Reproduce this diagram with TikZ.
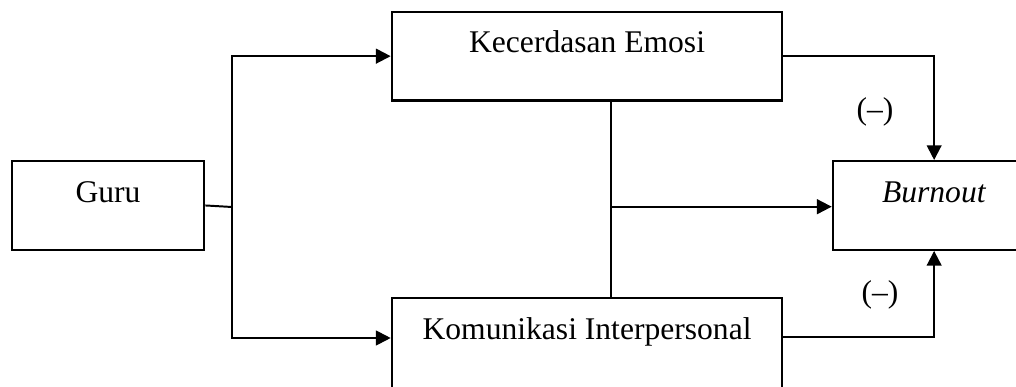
\documentclass[tikz,border=0pt]{standalone}
\usepackage{fontspec}
\setmainfont{Liberation Serif}
\usetikzlibrary{arrows.meta}

\begin{document}
\begin{tikzpicture}[x=0.38pt,y=-0.38pt,line cap=butt,line join=miter,>={Triangle[length=5.6pt,width=5.6pt]}]
			\tikzset{box/.style={draw,line width=0.85pt,inner sep=0pt,anchor=north west,
					text height=15.6pt,text depth=18.1pt,font=\fontsize{12}{14}\selectfont},
				link/.style={line width=0.75pt},
				sign/.style={font=\fontsize{12}{14}\selectfont}
			}
			\useasboundingbox (0,0) rectangle (1016,387);
			\clip (0,0) rectangle (1016,387);
			% boxes
			\node[box,minimum width=73.1pt] (guru) at (10.7,160) {Guru};
			\node[box,minimum width=148.4pt] (emosi) at (390.7,10.7) {Kecerdasan Emosi};
			\node[box,minimum width=148.4pt,text depth=20.5pt] (komunikasi) at (390.7,297) {Komunikasi Interpersonal};
			\node[box,minimum width=77pt] (burnout) at (831.7,160) {\textit{Burnout}};
			\coordinate (split) at (232,207);
			\coordinate (mid) at (610.7,206.7);
			% connectors
			\draw[link] (guru.east) -- (split);
			\draw[link,->] (split) |- (emosi.west);
			\draw[link,->] (split) |- (komunikasi.west |- 0,338);
			\draw[link] (mid |- emosi.south) -- (mid |- komunikasi.north);
			\draw[link,->] (mid) -- (mid -| burnout.west);
			\draw[link,->] (emosi.east) -| (burnout.north);
			\draw[link,->] (komunikasi.east |- 0,337) -| (burnout.south);
			\node[sign] (negA) at (875,112) {(–)};
			\node[sign] (negB) at (880,295) {(–)};
		\end{tikzpicture}
\end{document}
